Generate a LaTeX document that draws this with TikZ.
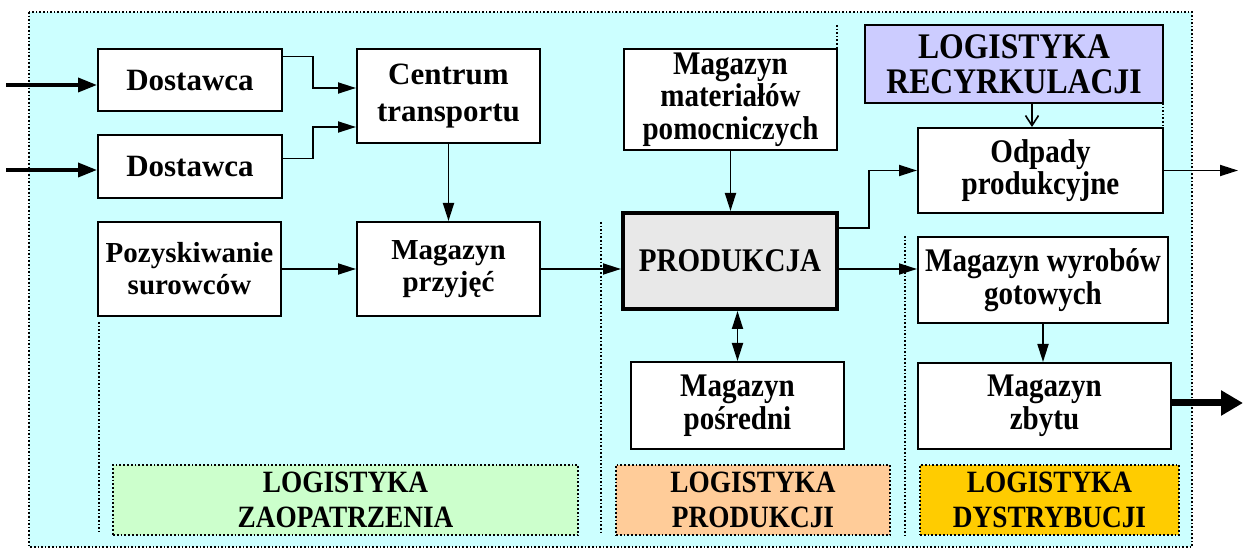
\documentclass[tikz,border=0pt]{standalone}
\usepackage{fontspec}
\setmainfont{Liberation Serif}
\newfontfamily\narrowfont[FakeStretch=0.88]{Liberation Serif}
\usetikzlibrary{arrows.meta,calc}

\definecolor{tlo}{HTML}{CCFFFF}
\definecolor{recykl}{HTML}{CCCCFF}
\definecolor{prodgray}{HTML}{E8E8E8}
\definecolor{zaopc}{HTML}{CCFFCC}
\definecolor{prodc}{HTML}{FFCC99}
\definecolor{dystc}{HTML}{FFCC00}

\tikzset{
  box/.style={draw, line width=1pt, fill=white, align=center, inner sep=0pt,
    font=\bfseries\fontsize{14.5}{16}\selectfont},
  bigbox/.style={box, font=\bfseries\fontsize{15.5}{18.5}\selectfont},
  nbox/.style={box, font=\narrowfont\bfseries\fontsize{16.5}{16.25}\selectfont},
  areabox/.style={draw, densely dotted, line width=0.9pt, align=center, inner sep=0pt,
    minimum height=35pt, font=\narrowfont\bfseries\fontsize{15.5}{17.5}\selectfont},
  sect/.style={densely dotted, line width=0.8pt},
  arr/.style={line width=0.9pt, -{Triangle[length=9pt,width=5.5pt]}},
  thickarr/.style={line width=1.8pt, -{Triangle[length=9.5pt,width=7pt]}},
}

\begin{document}
\begin{tikzpicture}[x=0.5pt, y=-0.5pt]
    \useasboundingbox (0,0) rectangle (1243,550);
    % Background
    \draw[sect, fill=tlo] (29,12) rectangle (1192,547);

    % Section borders
    \draw[sect] (99,322) -- (99,531);
    \draw[sect] (601,222) -- (601,535);
    \draw[sect] (905,236) -- (905,535);
    \draw[sect] (837,25) -- (837,49);
    \draw[sect] (1163,103) -- (1163,128);

    % Supply side
    \node[bigbox, minimum width=92pt, minimum height=31pt] (dost1) at (190,80.5) {Dostawca};
    \node[bigbox, minimum width=92pt, minimum height=31.5pt] (dost2) at (190,166.5) {Dostawca};
    \node[bigbox, minimum width=91.5pt, minimum height=47pt] (centrum) at (448.5,96) {Centrum\\transportu};
    \node[box, minimum width=91.5pt, minimum height=47pt] (pozysk) at (189.5,269) {Pozyskiwanie\\surowców};
    \node[box, minimum width=91.5pt, minimum height=47pt] (przyjec) at (448.5,269) {Magazyn\\przyjęć};

    % Production
    \node[nbox, minimum width=106.5pt, minimum height=50.5pt] (pomoc) at (730.5,99.5) {Magazyn\\materiałów\\pomocniczych};
    \node[nbox, line width=2pt, fill=prodgray, minimum width=107pt, minimum height=48pt] (prod) at (730,261) {PRODUKCJA};
    \node[nbox, minimum width=106.5pt, minimum height=43.5pt] (posredni) at (737.5,405.5) {Magazyn\\pośredni};

    % Distribution and recycling
    \node[nbox, fill=recykl, minimum width=149pt, minimum height=39pt,
      font=\narrowfont\bfseries\fontsize{18}{17.5}\selectfont] (recyk) at (1014,64) {LOGISTYKA\\RECYRKULACJI};
    \node[nbox, minimum width=122.5pt, minimum height=42.5pt] (odpady) at (1040.5,170.5) {Odpady\\produkcyjne};
    \node[nbox, minimum width=125pt, minimum height=43pt] (wyrobow) at (1043,280) {Magazyn wyrobów\\gotowych};
    \node[nbox, minimum width=126.5pt, minimum height=43pt] (zbytu) at (1044.5,406) {Magazyn\\zbytu};

    % Area labels
    \node[areabox, fill=zaopc, minimum width=232.5pt] (zaop) at (345.5,500) {LOGISTYKA\\ZAOPATRZENIA};
    \node[areabox, fill=prodc, minimum width=137pt] (prodl) at (753,500) {LOGISTYKA\\PRODUKCJI};
    \node[areabox, fill=dystc, minimum width=129.5pt] (dystr) at (1049.5,500) {LOGISTYKA\\DYSTRYBUCJI};

    % Free ends
    \coordinate (in1) at (6,85);
    \coordinate (in2) at (6,170);
    \coordinate (out1) at (1238,169);
    \coordinate (out2) at (1243,403);

    % Flows
    \draw[thickarr] (in1) -- (in1 -| dost1.west);
    \draw[thickarr] (in2) -- (in2 -| dost2.west);
    \draw[arr] ([yshift=-4pt]dost1.north east) -- ++(15pt,0) |- ([yshift=4pt]centrum.west);
    \draw[arr] ([yshift=4pt]dost2.east) -- ++(15pt,0) |- ([yshift=-15.5pt]centrum.west);
    \draw[arr] (centrum.south) -- (przyjec.north);
    \draw[arr] (pozysk) -- (przyjec);
    \draw[arr] (przyjec.east) -- (przyjec.east -| prod.west);
    \draw[arr] (pomoc.south) -- (pomoc.south |- prod.north);
    \draw[arr] ([yshift=-8.5pt]prod.north east) -- ++(15pt,0) |- (odpady.west);
    \draw[arr] (prod.east |- przyjec.east) -- (przyjec.east -| wyrobow.west);
    \draw[arr, {Triangle[length=9pt,width=5.5pt]}-{Triangle[length=9pt,width=5.5pt]}]
      (posredni.north |- prod.south) -- (posredni.north);
    \draw[arr] (wyrobow.south) -- (wyrobow.south |- zbytu.north);
    \draw[arr] (odpady.east) -- (odpady.east -| out1);
    \draw[line width=3.5pt, -{Triangle[length=11pt,width=12pt]}] (zbytu.east |- out2) -- (out2);
    \draw[line width=0.8pt, -{Straight Barb[length=5pt,width=6.5pt]}]
      ([xshift=9pt]recyk.south) -- ([xshift=9pt]recyk.south |- odpady.north);
\end{tikzpicture}
\end{document}
